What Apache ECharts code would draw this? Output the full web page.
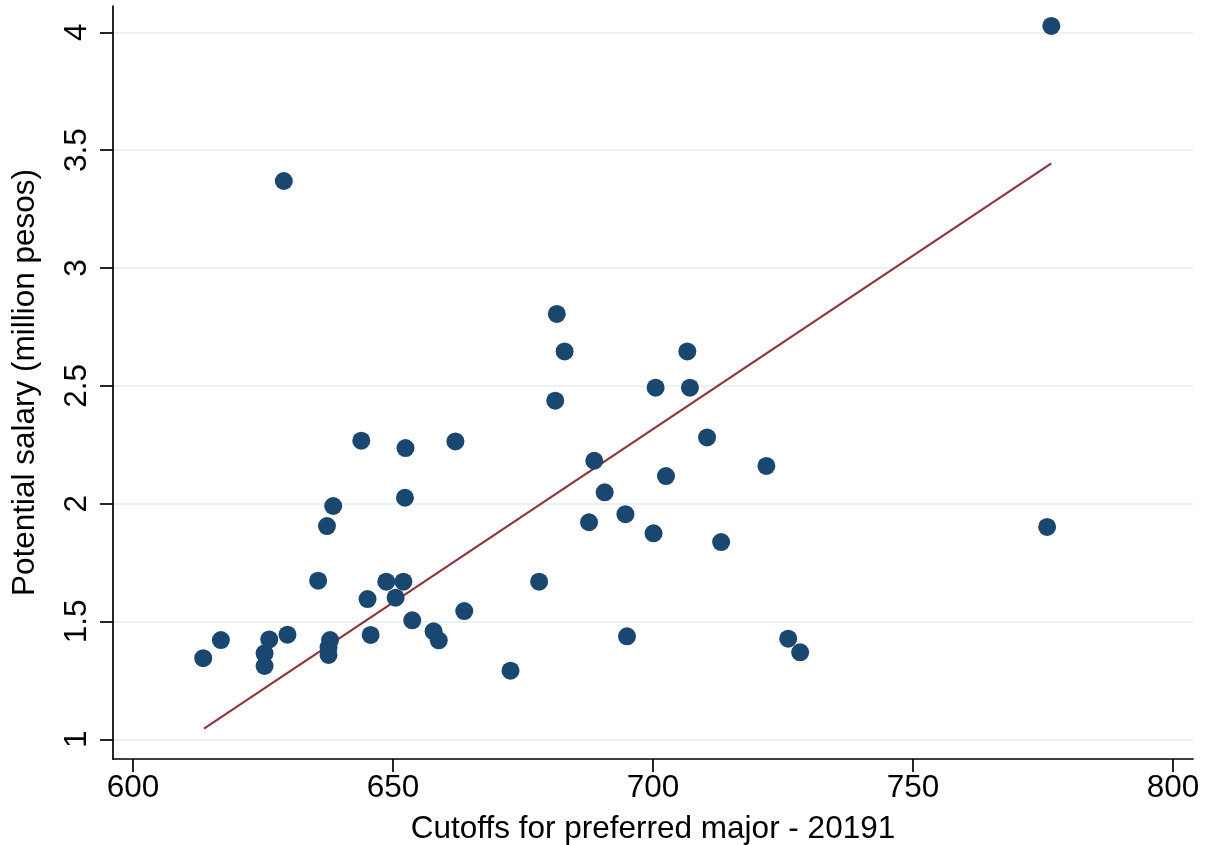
<!DOCTYPE html>
<html>
<head>
<meta charset="utf-8">
<script src="https://cdn.jsdelivr.net/npm/echarts@6/dist/echarts.min.js"></script>
<style>
  html, body { margin: 0; padding: 0; background: #ffffff; }
  #chart { width: 1213px; height: 845px; }
</style>
</head>
<body>
<div id="chart"></div>
<script>
// Cutoff score of the preferred major (x) and potential salary in million pesos (y)
const cutoffs = [
  613.5, 616.9, 625.3, 625.3, 626.2, 629.0, 629.7, 635.6, 637.3, 637.9,
  637.6, 637.6, 638.5, 643.9, 645.1, 645.7, 648.7, 650.5, 652.0, 652.3,
  652.4, 653.7, 657.8, 658.8, 662.0, 663.7, 672.6, 678.1, 681.2, 681.5,
  683.0, 687.7, 688.7, 690.7, 694.7, 695.0, 700.1, 700.5, 702.5, 706.6,
  707.1, 710.4, 713.1, 721.8, 726.0, 728.3, 775.8, 776.6
];
const salaries = [
  1.344, 1.421, 1.311, 1.365, 1.424, 3.369, 1.444, 1.673, 1.905, 1.421,
  1.390, 1.358, 1.990, 2.267, 1.595, 1.443, 1.669, 1.601, 1.669, 2.025,
  2.236, 1.505, 1.458, 1.420, 2.264, 1.544, 1.291, 1.669, 2.437, 2.805,
  2.646, 1.921, 2.182, 2.048, 1.955, 1.437, 1.874, 2.492, 2.117, 2.646,
  2.492, 2.281, 1.837, 2.160, 1.427, 1.369, 1.901, 4.027
];

// Linear fit, given by its two end points
const fitX = [613.65, 776.6];
const fitY = [1.045, 3.444];

// Axis ticks
const xTicks = [600, 650, 700, 750, 800];
const yTicks = [1, 1.5, 2, 2.5, 3, 3.5, 4];

const points = cutoffs.map((c, i) => [c, salaries[i]]);
const fitLine = fitX.map((x, i) => [x, fitY[i]]);

const FONT = '"Liberation Sans", Arial, Helvetica, sans-serif';
const FS = 31.5;
const axisColor = '#000000';

const chart = echarts.init(document.getElementById('chart'), null, { renderer: 'canvas' });
chart.setOption({
  backgroundColor: '#ffffff',
  animation: false,
  grid: {
    left: 113, right: 20, top: 6, bottom: 86,
    containLabel: false,
    outerBoundsMode: 'none'
  },
  xAxis: {
    type: 'value',
    min: 596.15,
    max: 803.85,
    name: 'Cutoffs for preferred major - 20191',
    nameLocation: 'middle',
    nameGap: 54,
    nameTextStyle: { fontFamily: FONT, fontSize: FS, color: '#000' },
    axisLine: { show: true, onZero: false, lineStyle: { color: axisColor, width: 1.7 } },
    axisTick: { show: true, length: 13, customValues: xTicks, lineStyle: { color: axisColor, width: 1.7 } },
    axisLabel: { customValues: xTicks, fontFamily: FONT, fontSize: FS, color: '#000', margin: 13 },
    splitLine: { show: false }
  },
  yAxis: {
    type: 'value',
    min: 0.9164,
    max: 4.1116,
    name: 'Potential salary (million pesos)',
    nameLocation: 'middle',
    nameRotate: 90,
    nameGap: 72,
    nameTextStyle: { fontFamily: FONT, fontSize: FS, color: '#000' },
    axisLine: { show: true, onZero: false, lineStyle: { color: axisColor, width: 1.7 } },
    axisTick: { show: true, length: 13, customValues: yTicks, lineStyle: { color: axisColor, width: 1.7 } },
    axisLabel: { customValues: yTicks, rotate: 90, fontFamily: FONT, fontSize: FS, color: '#000', margin: 20 },
    splitLine: { show: true, lineStyle: { color: '#eaf2f3', width: 2 } }
  },
  series: [
    {
      type: 'line',
      data: fitLine,
      symbol: 'none',
      lineStyle: { color: '#90353b', width: 2.2 },
      z: 2
    },
    {
      type: 'scatter',
      data: points,
      symbol: 'circle',
      symbolSize: 18,
      itemStyle: { color: '#1a476f', opacity: 1 },
      z: 3
    }
  ]
});
</script>
</body>
</html>
